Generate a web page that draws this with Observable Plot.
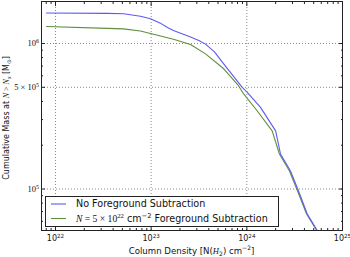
<!DOCTYPE html>
<html><head><meta charset="utf-8">
<script src="https://cdn.jsdelivr.net/npm/d3@7"></script>
<script src="https://cdn.jsdelivr.net/npm/@observablehq/plot@0.6"></script>
<style>body{margin:0;background:#fff} svg{display:block;background:#fff}</style>
</head><body><div id="chart"></div>
<script>
// Series: No Foreground Subtraction
const columnDensityNoFg = [8.05e21, 3.50e22, 5.14e22, 7.73e22, 9.84e22, 1.25e23, 1.48e23, 1.71e23, 2.58e23, 3.15e23, 3.70e23, 4.59e23, 5.70e23, 8.95e23, 1.01e24, 1.39e24, 2.00e24, 2.25e24, 2.86e24, 3.47e24, 4.28e24, 5.43e24];
const massNoFg = [1.62e6, 1.61e6, 1.60e6, 1.54e6, 1.48e6, 1.38e6, 1.29e6, 1.23e6, 1.11e6, 1.05e6, 9.9e5, 8.75e5, 7.28e5, 5.0e5, 4.61e5, 3.64e5, 2.51e5, 1.74e5, 1.33e5, 9.68e4, 6.73e4, 5.21e4];
// Series: N = 5e22 foreground subtraction
const columnDensityFg = [8.05e21, 3.50e22, 5.14e22, 7.73e22, 9.84e22, 1.71e23, 2.58e23, 3.70e23, 5.70e23, 8.19e23, 9.23e23, 1.28e24, 1.84e24, 2.19e24, 2.79e24, 3.39e24, 4.21e24, 5.35e24];
const massFg = [1.31e6, 1.27e6, 1.26e6, 1.22e6, 1.17e6, 1.07e6, 9.84e5, 8.49e5, 6.73e5, 5.13e5, 4.52e5, 3.45e5, 2.51e5, 1.74e5, 1.33e5, 9.68e4, 6.73e4, 5.21e4];

const seriesNames = ["No Foreground Subtraction", "N = 5 × 10^22 cm^−2 Foreground Subtraction"];
const seriesColors = ["#5f59f2", "#5f8f3f"];

const xMajor = [1e22, 1e23, 1e24, 1e25];
const xTickLabels = ["10^22", "10^23", "10^24", "10^25"];
const xMinor = [8e21, 9e21, 2e22, 3e22, 4e22, 5e22, 6e22, 7e22, 8e22, 9e22, 2e23, 3e23, 4e23, 5e23, 6e23, 7e23, 8e23, 9e23, 2e24, 3e24, 4e24, 5e24, 6e24, 7e24, 8e24, 9e24];
const yMajor = [1e5, 5e5, 1e6];
const yTickLabels = ["10^5", "5 × 10^5", "10^6"];
const yMinor = [6e4, 7e4, 8e4, 9e4, 2e5, 3e5, 4e5, 6e5, 7e5, 8e5, 9e5];

const rowsNoFg = columnDensityNoFg.map((n, i) => ({N: n, M: massNoFg[i], series: seriesNames[0]}));
const rowsFg = columnDensityFg.map((n, i) => ({N: n, M: massFg[i], series: seriesNames[1]}));
const xLabelRows = xMajor.map((v, i) => ({v, label: xTickLabels[i]}));
const yLabelRows = yMajor.map((v, i) => ({v, label: yTickLabels[i]}));

const gridStyle = {stroke: "#8a8a8a", strokeOpacity: 1, strokeWidth: 1, strokeDasharray: "1,2"};
const noText = () => "";

const chart = Plot.plot({
  width: 350, height: 257,
  marginLeft: 41, marginRight: 8, marginTop: 1, marginBottom: 27,
  style: {background: "#fff", color: "#111"},
  x: {type: "log", domain: [7.14e21, 1e25]},
  y: {type: "log", domain: [5.186e4, 1.944e6]},
  color: {domain: seriesNames, range: seriesColors},
  marks: [
    Plot.ruleX(xMajor.slice(0, 3), {x: d => d, ...gridStyle}),
    Plot.ruleY(yMajor, {y: d => d, ...gridStyle}),
    Plot.line(rowsFg, {x: "N", y: "M", stroke: "series", strokeWidth: 1.1, clip: true}),
    Plot.line(rowsNoFg, {x: "N", y: "M", stroke: "series", strokeWidth: 1.1, clip: true}),
    // inward ticks
    Plot.axisX(xMajor, {anchor: "bottom", tickSize: -4, tickFormat: noText, label: null, stroke: "#222"}),
    Plot.axisX(xMinor, {anchor: "bottom", tickSize: -2, tickFormat: noText, label: null, stroke: "#222"}),
    Plot.axisX(xMajor, {anchor: "top", tickSize: -4, tickFormat: noText, label: null, stroke: "#222"}),
    Plot.axisX(xMinor, {anchor: "top", tickSize: -2, tickFormat: noText, label: null, stroke: "#222"}),
    Plot.axisY(yMajor, {anchor: "left", tickSize: -4, tickFormat: noText, label: null, stroke: "#222"}),
    Plot.axisY(yMinor, {anchor: "left", tickSize: -2, tickFormat: noText, label: null, stroke: "#222"}),
    Plot.axisY(yMajor, {anchor: "right", tickSize: -4, tickFormat: noText, label: null, stroke: "#222"}),
    Plot.axisY(yMinor, {anchor: "right", tickSize: -2, tickFormat: noText, label: null, stroke: "#222"}),
    // tick labels
    Plot.text(xLabelRows, {x: "v", frameAnchor: "bottom", dy: 10, text: "label", fontSize: 8,
      fontFamily: "DejaVu Sans", fill: "#111"}),
    Plot.text(yLabelRows, {y: "v", frameAnchor: "left", dx: -2.5, textAnchor: "end", text: "label", fontSize: 8.5,
      fontFamily: "Liberation Serif", fill: "#111"}),
    Plot.frame({stroke: "#222", strokeWidth: 1})
  ]
});

document.getElementById("chart").appendChild(chart);
const svg = d3.select(chart.tagName === "svg" ? chart : chart.querySelector("svg"));

// Superscript conversion for tick labels
svg.selectAll("text").each(function () {
  const s = this.textContent;
  if (s.includes("^")) {
    const i = s.indexOf("^");
    const base = s.slice(0, i), sup = s.slice(i + 1);
    const t = d3.select(this);
    t.text(base);
    t.append("tspan").attr("dy", "-0.5em").attr("font-size", "70%").text(sup);
  }
});

// parts: {t, it, ff, small, dy (px)}
function richText(sel, parts) {
  parts.forEach(p => {
    const ts = sel.append("tspan").text(p.t);
    if (p.it) ts.attr("font-style", "italic");
    if (p.ff) ts.attr("font-family", p.ff);
    if (p.small) ts.attr("font-size", "70%");
    if (p.dy) ts.attr("dy", p.dy);
  });
}

// Axis labels
const xl = svg.append("text").attr("x", 191.5).attr("y", 253.5).attr("text-anchor", "middle")
  .attr("font-family", "DejaVu Sans").attr("font-size", 8.6).attr("fill", "#111");
richText(xl, [
  {t: "Column Density [N("},
  {t: "H", it: true, ff: "Liberation Serif"},
  {t: "2", small: true, dy: 2},
  {t: ") cm", dy: -2},
  {t: "−2", small: true, dy: -3.5},
  {t: "]", dy: 3.5}
]);

const yl = svg.append("text").attr("transform", "translate(9,118) rotate(-90)").attr("text-anchor", "middle")
  .attr("font-family", "DejaVu Sans").attr("font-size", 8).attr("fill", "#111");
richText(yl, [
  {t: "Cumulative Mass at "},
  {t: "N", it: true, ff: "Liberation Serif"},
  {t: " > ", ff: "Liberation Serif"},
  {t: "N", it: true, ff: "Liberation Serif"},
  {t: "x", small: true, it: true, ff: "Liberation Serif", dy: 1.8},
  {t: " [M", dy: -1.8},
  {t: "⊙", small: true, dy: 1.8},
  {t: "]", dy: -1.8}
]);

// Legend inside the plot
const lg = svg.append("g").attr("text-anchor", "start");
lg.append("rect").attr("x", 45.5).attr("y", 196.5).attr("width", 233).attr("height", 30)
  .attr("fill", "#fff").attr("stroke", "#222").attr("stroke-width", 1);
const rowsY = [204, 218.5];
seriesNames.forEach((name, i) => {
  lg.append("line").attr("x1", 51).attr("x2", 66).attr("y1", rowsY[i]).attr("y2", rowsY[i])
    .attr("stroke", seriesColors[i]).attr("stroke-width", 1.1);
});
lg.append("text").attr("x", 76).attr("y", rowsY[0] + 3.4).attr("text-anchor", "start").attr("font-family", "DejaVu Sans")
  .attr("font-size", 9.6).attr("fill", "#111").text(seriesNames[0]);
const l2 = lg.append("text").attr("x", 76).attr("y", rowsY[1] + 3.4).attr("text-anchor", "start").attr("font-family", "DejaVu Sans")
  .attr("font-size", 9.6).attr("fill", "#111");
richText(l2, [
  {t: "N", it: true, ff: "Liberation Serif"},
  {t: " = 5 × 10", ff: "Liberation Serif"},
  {t: "22", small: true, ff: "Liberation Serif", dy: -3.8},
  {t: " cm", dy: 3.8},
  {t: "−2", small: true, dy: -3.8},
  {t: " Foreground Subtraction", dy: 3.8}
]);
</script>
</body></html>
